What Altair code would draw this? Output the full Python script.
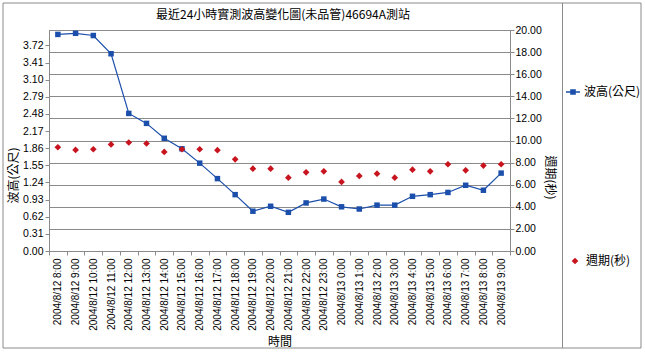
import altair as alt
import pandas as pd

times = [
    "2004/8/12 8:00", "2004/8/12 9:00", "2004/8/12 10:00", "2004/8/12 11:00",
    "2004/8/12 12:00", "2004/8/12 13:00", "2004/8/12 14:00", "2004/8/12 15:00",
    "2004/8/12 16:00", "2004/8/12 17:00", "2004/8/12 18:00", "2004/8/12 19:00",
    "2004/8/12 20:00", "2004/8/12 21:00", "2004/8/12 22:00", "2004/8/12 23:00",
    "2004/8/13 0:00", "2004/8/13 1:00", "2004/8/13 2:00", "2004/8/13 3:00",
    "2004/8/13 4:00", "2004/8/13 5:00", "2004/8/13 6:00", "2004/8/13 7:00",
    "2004/8/13 8:00", "2004/8/13 9:00",
]
wave_height = [3.92, 3.94, 3.90, 3.57, 2.49, 2.31, 2.04, 1.85, 1.59, 1.31, 1.02, 0.72, 0.81,
               0.70, 0.87, 0.94, 0.80, 0.76, 0.83, 0.83, 0.99, 1.02, 1.06, 1.19, 1.10, 1.41]
wave_period = [9.39, 9.15, 9.21, 9.64, 9.82, 9.73, 8.97, 9.21, 9.21, 9.12, 8.30, 7.45, 7.45,
               6.64, 7.12, 7.21, 6.25, 6.79, 7.00, 6.64, 7.36, 7.21, 7.85, 7.30, 7.73, 7.85]
left_ticks = [0.00, 0.31, 0.62, 0.93, 1.24, 1.55, 1.86, 2.17, 2.48, 2.79, 3.10, 3.41, 3.72]
right_ticks = [0, 2, 4, 6, 8, 10, 12, 14, 16, 18, 20]

title_text = "最近24小時實測波高變化圖(未品管)46694A測站"
s_height = "波高(公尺)"
s_period = "週期(秒)"

df = pd.DataFrame({
    "時間": times,
    "h": wave_height,
    "p": wave_period,
    "s1": [s_height] * len(times),
    "s2": [s_period] * len(times),
})

BLUE = "#1b4fab"
RED = "#c8141e"
GRID = "#8a8a8a"
FONT = "Liberation Sans, Noto Sans CJK TC"
CJK = "Noto Sans CJK TC"

W, H = 461, 221
PL, PT = 49, 30

x_enc = alt.X(
    "時間:N", sort=times, bandPosition=0.5,
    scale=alt.Scale(type="band", paddingInner=0, paddingOuter=0),
    axis=alt.Axis(
        title="時間", labelAngle=-90, labelFontSize=10, labelFont=FONT, labelColor="black",
        tickBand="extent", tickSize=4, tickColor=GRID, domainColor=GRID, labelPadding=3,
        titleFont=CJK, titleFontSize=12, titleFontWeight="normal", titleColor="black",
        titleY=90, titleBaseline="middle", grid=False,
    ),
)

y_left = alt.Y(
    "h:Q",
    scale=alt.Scale(domain=[0, 4.0], nice=False, zero=True),
    axis=alt.Axis(
        title=s_height, values=left_ticks, format=".2f", grid=False, orient="left",
        labelFontSize=10.5, labelFont=FONT, labelColor="black", labelPadding=2,
        tickSize=4, tickColor=GRID, domainColor=GRID,
        titleFont=CJK, titleFontSize=12, titleFontWeight="normal", titleColor="black",
        titleAngle=-90, titleX=-36, titleY=145, titleAlign="center", titleBaseline="middle",
    ),
)

y_right = alt.Y(
    "p:Q",
    scale=alt.Scale(domain=[0, 20], nice=False, zero=True),
    axis=alt.Axis(
        title=s_period, values=right_ticks, format=".2f", grid=True, gridColor=GRID,
        orient="right", labelFontSize=10.5, labelFont=FONT, labelColor="black", labelPadding=1,
        tickSize=4, tickColor=GRID, domainColor=GRID,
        titleFont=CJK, titleFontSize=12, titleFontWeight="normal", titleColor="black",
        titleAngle=90, titleX=39, titleY=147, titleAlign="center", titleBaseline="middle",
    ),
)

line = alt.Chart(df).mark_line(color=BLUE, strokeWidth=1.2).encode(x=x_enc, y=y_left)
squares = alt.Chart(df).mark_point(shape="square", filled=True, size=30, opacity=1).encode(
    x=x_enc, y=y_left,
    color=alt.Color("s1:N", scale=alt.Scale(domain=[s_height], range=[BLUE]),
                    legend=alt.Legend(
                        title=None, orient="none", legendX=517, legendY=55,
                        symbolType="M-1,-0.1H1V0.1H-1Z M-0.4,-0.4H0.4V0.4H-0.4Z",
                        symbolSize=196, symbolStrokeWidth=0, symbolFillColor=BLUE,
                        labelFont=CJK, labelFontSize=12, labelColor="black", labelOffset=4,
                        padding=0)),
)
left = alt.layer(line, squares)

diamonds = alt.Chart(df).mark_point(shape="diamond", filled=True, size=45, opacity=1).encode(
    x=x_enc, y=y_right,
    color=alt.Color("s2:N", scale=alt.Scale(domain=[s_period], range=[RED]),
                    legend=alt.Legend(
                        title=None, orient="none", legendX=520, legendY=225,
                        symbolType="diamond", symbolSize=45, symbolStrokeWidth=0,
                        labelFont=CJK, labelFontSize=12, labelColor="black", labelOffset=5,
                        padding=0)),
)

frame_df = pd.DataFrame({"k": [0]})
outer = alt.Chart(frame_df).mark_rect(fill=None, stroke=GRID, strokeWidth=1).encode(
    x=alt.value(3 - PL), x2=alt.value(641 - PL), y=alt.value(3 - PT), y2=alt.value(348 - PT)
)
divider = alt.Chart(frame_df).mark_rule(color=GRID, strokeWidth=1).encode(
    x=alt.value(562.5 - PL), y=alt.value(3 - PT), y2=alt.value(348 - PT)
)
title_df = pd.DataFrame({"t": [title_text]})
title = alt.Chart(title_df).mark_text(
    font=CJK, fontSize=12, color="black", align="center", baseline="middle"
).encode(x=alt.value(283 - PL), y=alt.value(15 - PT), text="t:N")

chart = alt.layer(left, diamonds, outer, divider, title).resolve_scale(
    y="independent", color="independent"
).properties(
    width=W, height=H,
    autosize=alt.AutoSizeParams(type="none"),
    padding={"left": PL, "top": PT, "right": 645 - PL - W, "bottom": 352 - PT - H},
    background="white",
).configure_view(stroke=GRID, strokeWidth=1)

chart.save("out.html", embed_options={"renderer": "svg", "actions": False})
